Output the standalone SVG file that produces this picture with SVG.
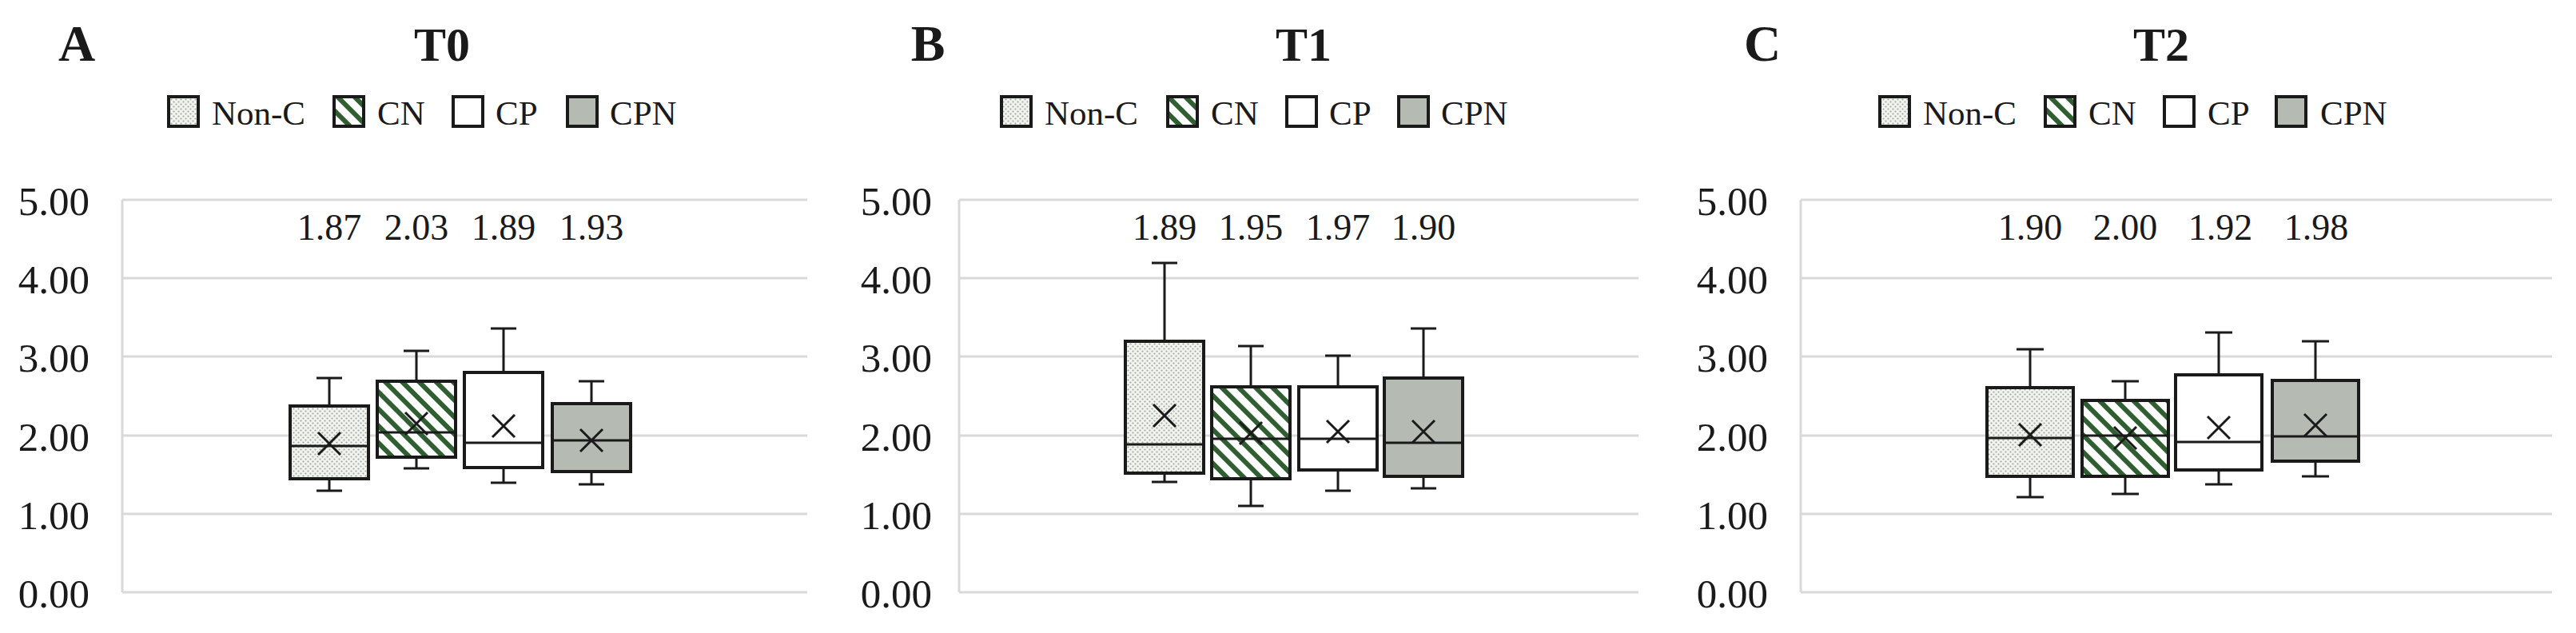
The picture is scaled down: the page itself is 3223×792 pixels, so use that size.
<svg xmlns="http://www.w3.org/2000/svg" width="3223" height="792" viewBox="0 0 3223 792">
<style>
text{font-family:"Liberation Serif","Times New Roman",serif;fill:#1a1a1a}
.lt{font-size:64px;font-weight:bold;text-anchor:middle}
.tt{font-size:60px;font-weight:bold;text-anchor:middle}
.lg{font-size:43px}
.yl{font-size:51px;text-anchor:end}
.vl{font-size:46px;text-anchor:middle}
.grid{stroke:#d9d9d9;stroke-width:3;fill:none}
.bx{stroke:#1a1a1a;stroke-width:4}
.wk{stroke:#1a1a1a;stroke-width:3;fill:none}
.mk{stroke:#1a1a1a;stroke-width:3;fill:none}
.nonc{fill:url(#dots)}
.cn{fill:url(#stripes)}
.cp{fill:#ffffff}
.cpn{fill:#b5bab3}
</style>
<defs>
<pattern id="dots" width="6" height="6" patternUnits="userSpaceOnUse">
<rect width="6" height="6" fill="#f1f3ef"/>
<circle cx="1.5" cy="1.5" r="1.1" fill="#a3a8a1"/>
<circle cx="4.5" cy="4.5" r="1.1" fill="#a3a8a1"/>
</pattern>
<pattern id="stripes" width="15" height="15" patternUnits="userSpaceOnUse" patternTransform="rotate(-45)">
<rect width="15" height="15" fill="#ffffff"/>
<rect width="6" height="15" fill="#2f5f30"/>
</pattern>
</defs>
<rect width="3223" height="792" fill="#ffffff"/>

<g id="panelA">
<text class="lt" x="96" y="76">A</text>
<text class="tt" x="553" y="76">T0</text>
<g id="legendA">
<rect class="bx nonc" x="211" y="121" width="37" height="37" stroke-width="3"/><text class="lg" x="265" y="156">Non-C</text>
<rect class="bx cn" x="418" y="121" width="37" height="37" stroke-width="3"/><text class="lg" x="472" y="156">CN</text>
<rect class="bx cp" x="567" y="121" width="37" height="37" stroke-width="3"/><text class="lg" x="620" y="156">CP</text>
<rect class="bx cpn" x="710" y="121" width="37" height="37" stroke-width="3"/><text class="lg" x="763" y="156">CPN</text>
</g>
<g id="axisA">
<path class="grid" d="M153 250H1010M153 348H1010M153 446H1010M153 545H1010M153 643H1010M153 741H1010M153 250V741"/>
<text class="yl" x="112" y="269">5.00</text><text class="yl" x="112" y="367">4.00</text><text class="yl" x="112" y="465">3.00</text><text class="yl" x="112" y="564">2.00</text><text class="yl" x="112" y="662">1.00</text><text class="yl" x="112" y="760">0.00</text>
</g>
<g id="valuesA"><text class="vl" x="412" y="300">1.87</text><text class="vl" x="521" y="300">2.03</text><text class="vl" x="630" y="300">1.89</text><text class="vl" x="740" y="300">1.93</text></g>
<g id="A-NonC"><path class="wk" d="M412 508V473M396 473H428M412 599V614M396 614H428"/><rect class="bx nonc" x="363" y="508" width="98" height="91"/><path class="wk" d="M363 558H461"/><path class="mk" d="M398 541L426 569M426 541L398 569"/></g>
<g id="A-CN"><path class="wk" d="M521 477V439M505 439H537M521 572V586M505 586H537"/><rect class="bx cn" x="472" y="477" width="98" height="95"/><path class="wk" d="M472 541H570"/><path class="mk" d="M507 516L535 544M535 516L507 544"/></g>
<g id="A-CP"><path class="wk" d="M630 466V411M614 411H646M630 585V604M614 604H646"/><rect class="bx cp" x="581" y="466" width="98" height="119"/><path class="wk" d="M581 554H679"/><path class="mk" d="M616 519L644 547M644 519L616 547"/></g>
<g id="A-CPN"><path class="wk" d="M740 505V477M724 477H756M740 590V606M724 606H756"/><rect class="bx cpn" x="691" y="505" width="98" height="85"/><path class="wk" d="M691 551H789"/><path class="mk" d="M726 537L754 565M754 537L726 565"/></g>
</g>

<g id="panelB">
<text class="lt" x="1161" y="76">B</text>
<text class="tt" x="1631" y="76">T1</text>
<g id="legendB">
<rect class="bx nonc" x="1253" y="121" width="37" height="37" stroke-width="3"/><text class="lg" x="1307" y="156">Non-C</text>
<rect class="bx cn" x="1461" y="121" width="37" height="37" stroke-width="3"/><text class="lg" x="1515" y="156">CN</text>
<rect class="bx cp" x="1610" y="121" width="37" height="37" stroke-width="3"/><text class="lg" x="1663" y="156">CP</text>
<rect class="bx cpn" x="1750" y="121" width="37" height="37" stroke-width="3"/><text class="lg" x="1803" y="156">CPN</text>
</g>
<g id="axisB">
<path class="grid" d="M1200 250H2050M1200 348H2050M1200 446H2050M1200 545H2050M1200 643H2050M1200 741H2050M1200 250V741"/>
<text class="yl" x="1166" y="269">5.00</text><text class="yl" x="1166" y="367">4.00</text><text class="yl" x="1166" y="465">3.00</text><text class="yl" x="1166" y="564">2.00</text><text class="yl" x="1166" y="662">1.00</text><text class="yl" x="1166" y="760">0.00</text>
</g>
<g id="valuesB"><text class="vl" x="1457" y="300">1.89</text><text class="vl" x="1565" y="300">1.95</text><text class="vl" x="1674" y="300">1.97</text><text class="vl" x="1781" y="300">1.90</text></g>
<g id="B-NonC"><path class="wk" d="M1457 427V329M1441 329H1473M1457 592V603M1441 603H1473"/><rect class="bx nonc" x="1408" y="427" width="98" height="165"/><path class="wk" d="M1408 556H1506"/><path class="mk" d="M1443 506L1471 534M1471 506L1443 534"/></g>
<g id="B-CN"><path class="wk" d="M1565 484V433M1549 433H1581M1565 599V633M1549 633H1581"/><rect class="bx cn" x="1516" y="484" width="98" height="115"/><path class="wk" d="M1516 549H1614"/><path class="mk" d="M1551 528L1579 556M1579 528L1551 556"/></g>
<g id="B-CP"><path class="wk" d="M1674 484V445M1658 445H1690M1674 588V614M1658 614H1690"/><rect class="bx cp" x="1625" y="484" width="98" height="104"/><path class="wk" d="M1625 549H1723"/><path class="mk" d="M1660 526L1688 554M1688 526L1660 554"/></g>
<g id="B-CPN"><path class="wk" d="M1781 473V411M1765 411H1797M1781 596V611M1765 611H1797"/><rect class="bx cpn" x="1732" y="473" width="98" height="123"/><path class="wk" d="M1732 554H1830"/><path class="mk" d="M1767 526L1795 554M1795 526L1767 554"/></g>
</g>

<g id="panelC">
<text class="lt" x="2205" y="76">C</text>
<text class="tt" x="2704" y="76">T2</text>
<g id="legendC">
<rect class="bx nonc" x="2352" y="121" width="37" height="37" stroke-width="3"/><text class="lg" x="2406" y="156">Non-C</text>
<rect class="bx cn" x="2559" y="121" width="37" height="37" stroke-width="3"/><text class="lg" x="2613" y="156">CN</text>
<rect class="bx cp" x="2708" y="121" width="37" height="37" stroke-width="3"/><text class="lg" x="2762" y="156">CP</text>
<rect class="bx cpn" x="2848" y="121" width="37" height="37" stroke-width="3"/><text class="lg" x="2903" y="156">CPN</text>
</g>
<g id="axisC">
<path class="grid" d="M2253 250H3193M2253 348H3193M2253 446H3193M2253 545H3193M2253 643H3193M2253 741H3193M2253 250V741"/>
<text class="yl" x="2212" y="269">5.00</text><text class="yl" x="2212" y="367">4.00</text><text class="yl" x="2212" y="465">3.00</text><text class="yl" x="2212" y="564">2.00</text><text class="yl" x="2212" y="662">1.00</text><text class="yl" x="2212" y="760">0.00</text>
</g>
<g id="valuesC"><text class="vl" x="2540" y="300">1.90</text><text class="vl" x="2659" y="300">2.00</text><text class="vl" x="2778" y="300">1.92</text><text class="vl" x="2898" y="300">1.98</text></g>
<g id="C-NonC"><path class="wk" d="M2540 485V437M2523 437H2557M2540 596V622M2523 622H2557"/><rect class="bx nonc" x="2486" y="485" width="108" height="111"/><path class="wk" d="M2486 548H2594"/><path class="mk" d="M2526 530L2554 558M2554 530L2526 558"/></g>
<g id="C-CN"><path class="wk" d="M2659 501V477M2642 477H2676M2659 596V618M2642 618H2676"/><rect class="bx cn" x="2605" y="501" width="108" height="95"/><path class="wk" d="M2605 545H2713"/><path class="mk" d="M2645 534L2673 562M2673 534L2645 562"/></g>
<g id="C-CP"><path class="wk" d="M2776 469V416M2759 416H2793M2776 588V606M2759 606H2793"/><rect class="bx cp" x="2722" y="469" width="108" height="119"/><path class="wk" d="M2722 553H2830"/><path class="mk" d="M2762 521L2790 549M2790 521L2762 549"/></g>
<g id="C-CPN"><path class="wk" d="M2897 476V427M2880 427H2914M2897 577V596M2880 596H2914"/><rect class="bx cpn" x="2843" y="476" width="108" height="101"/><path class="wk" d="M2843 546H2951"/><path class="mk" d="M2883 518L2911 546M2911 518L2883 546"/></g>
</g>
</svg>
